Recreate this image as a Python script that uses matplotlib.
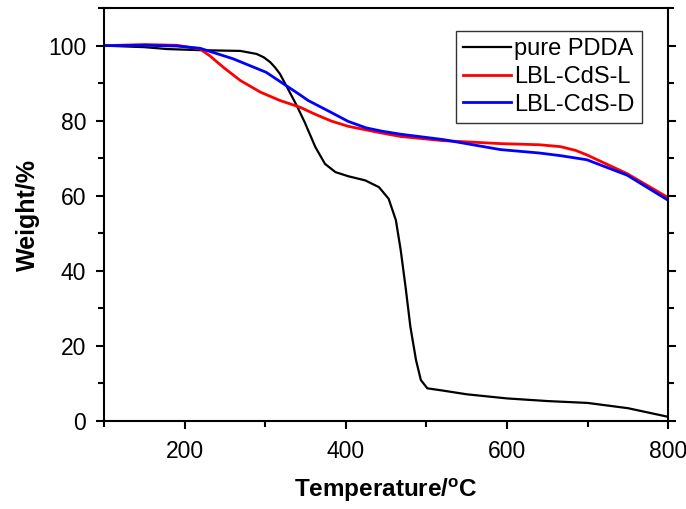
import matplotlib

matplotlib.use("Agg")
import matplotlib.pyplot as plt
from matplotlib.ticker import MultipleLocator

plt.rcParams["font.family"] = ["Liberation Sans", "DejaVu Sans"]
plt.rcParams["mathtext.fontset"] = "custom"
plt.rcParams["mathtext.rm"] = "Liberation Sans:bold"

# pure PDDA
pdda_t = [100, 150, 178, 220, 269, 289, 298, 306, 312, 318, 328, 339, 349, 362,
          374, 387, 403, 424, 441, 453, 462, 468, 474, 480, 487, 493, 501, 520,
          550, 600, 650, 700, 750, 800]
pdda_w = [100, 99.6, 99.1, 98.8, 98.6, 97.8, 96.9, 95.6, 94.2, 92.5, 88.5, 84.0,
          79.5, 73.0, 68.5, 66.3, 65.2, 64.1, 62.3, 59.2, 53.5, 45.5, 35.7, 25.1,
          16.2, 10.9, 8.7, 8.1, 7.1, 6.0, 5.3, 4.8, 3.4, 1.1]

# LBL-CdS-L
cdsl_t = [100, 150, 190, 219, 231, 248, 269, 294, 318, 343, 362, 382, 403, 445,
          468, 520, 592, 640, 666, 685, 699, 749, 800]
cdsl_w = [100, 100.3, 100.1, 99.1, 97.3, 94.2, 90.7, 87.6, 85.4, 83.6, 81.7, 79.9,
          78.5, 76.7, 75.8, 74.7, 73.9, 73.6, 73.1, 72.1, 70.9, 65.9, 59.5]

# LBL-CdS-D
cdsd_t = [100, 150, 190, 219, 260, 301, 343, 353, 380, 403, 425, 445, 468, 520,
          592, 640, 666, 699, 749, 800]
cdsd_w = [100, 100.1, 99.9, 99.3, 96.5, 92.9, 86.9, 85.4, 82.4, 79.8, 78.1, 77.2,
          76.4, 75.0, 72.3, 71.4, 70.7, 69.6, 65.5, 58.8]

fig = plt.figure(figsize=(6.86, 5.09), dpi=100)
ax = fig.add_axes([0.152, 0.173, 0.822, 0.811])

ax.plot(pdda_t, pdda_w, color="black", linewidth=1.6, label="pure PDDA")
ax.plot(cdsl_t, cdsl_w, color="red", linewidth=2.0, label="LBL-CdS-L")
ax.plot(cdsd_t, cdsd_w, color="blue", linewidth=2.0, label="LBL-CdS-D")

ax.set_xlim(100, 800)
ax.set_ylim(0, 110)
ax.xaxis.set_major_locator(MultipleLocator(200))
ax.xaxis.set_minor_locator(MultipleLocator(100))
ax.yaxis.set_major_locator(MultipleLocator(20))
ax.yaxis.set_minor_locator(MultipleLocator(10))
ax.tick_params(which="major", direction="out", length=6, width=1.5, labelsize=16.5,
               right=True, top=False)
ax.tick_params(which="minor", direction="out", length=4, width=1.5,
               right=True, top=False)
ax.tick_params(axis="y", which="major", pad=7)
ax.tick_params(axis="x", which="major", pad=8)
for s in ax.spines.values():
    s.set_linewidth(1.5)

ax.set_xlabel(r"Temperature/$^\mathrm{o}$C", fontsize=17.5, fontweight="bold", labelpad=9)
ax.set_ylabel("Weight/%", fontsize=18, fontweight="bold", labelpad=6)

leg = ax.legend(loc="upper right", bbox_to_anchor=(0.953, 0.945), fontsize=17,
                fancybox=False, framealpha=1, edgecolor="#333333",
                handlelength=2.0, handletextpad=0.15, labelspacing=0.25,
                borderpad=0.3, borderaxespad=0)
leg.get_frame().set_linewidth(1.0)

fig.savefig("out.png", dpi=100)
